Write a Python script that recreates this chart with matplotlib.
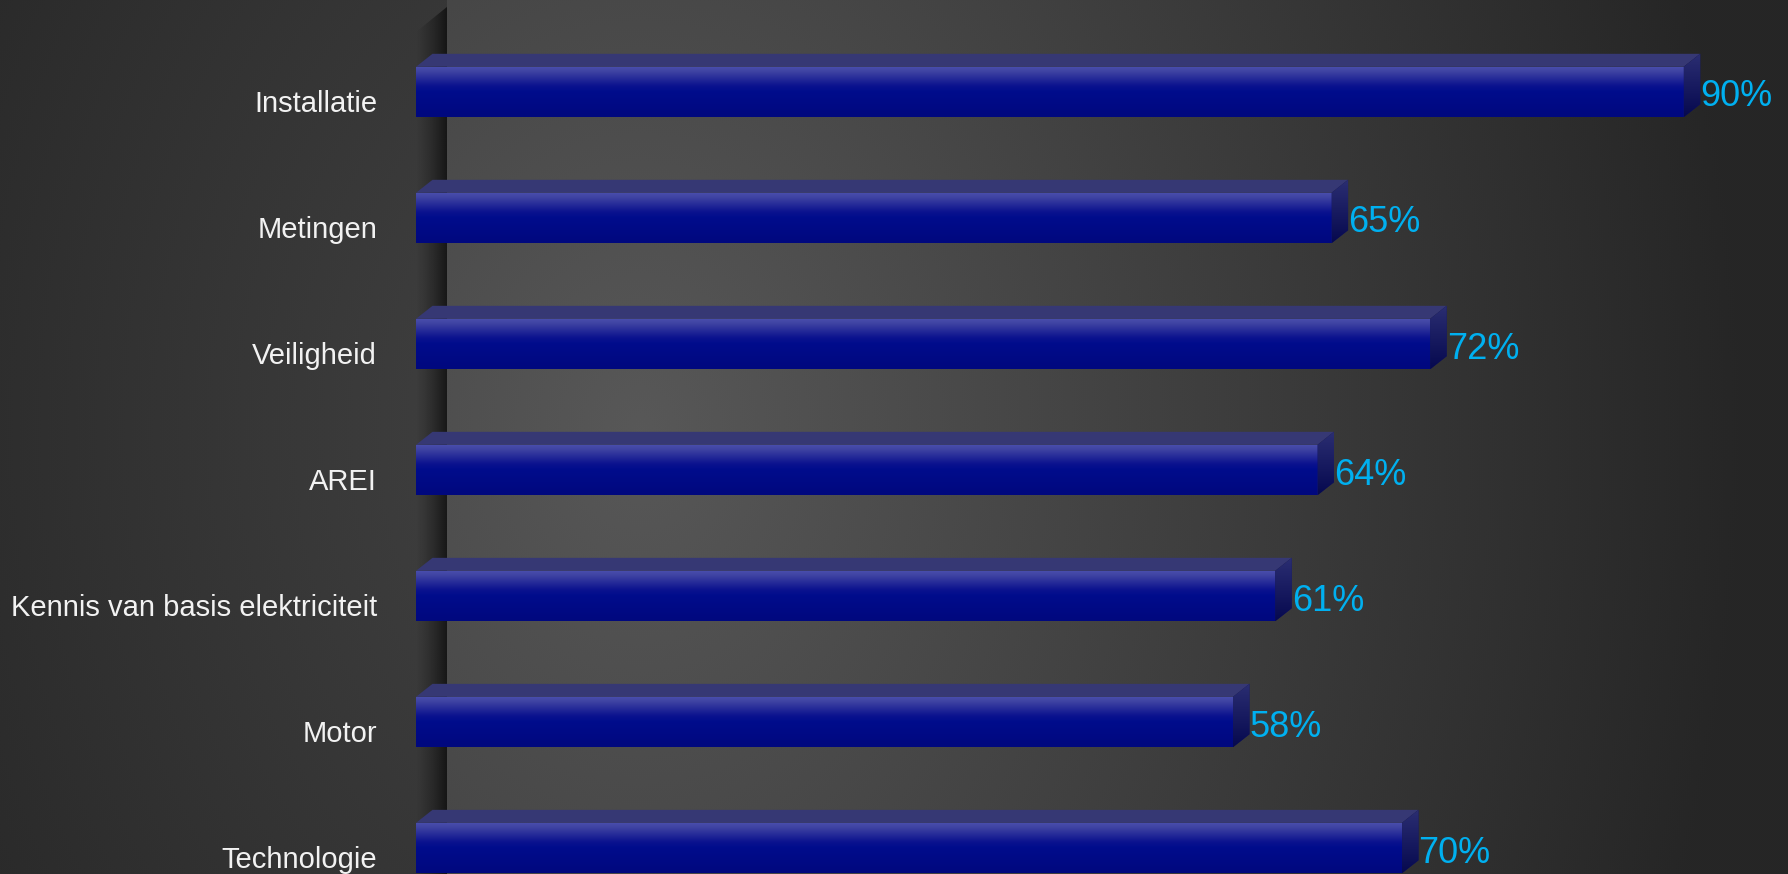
import numpy as np
import matplotlib
matplotlib.use("Agg")
import matplotlib.pyplot as plt
from matplotlib.patches import Polygon
from matplotlib.colors import LinearSegmentedColormap
from matplotlib.transforms import ScaledTranslation

plt.rcParams['font.family'] = ['Liberation Sans', 'DejaVu Sans']

# ---------------- Data -----------------
categories = ["Installatie", "Metingen", "Veiligheid", "AREI",
              "Kennis van basis elektriciteit", "Motor", "Technologie"]
scores = [90, 65, 72, 64, 61, 58, 70]

# ---------------- Figure + background -----------------
W, H = 1788, 874
fig = plt.figure(figsize=(W / 100, H / 100), dpi=100)

bg = fig.add_axes([0, 0, 1, 1])
bg.axis('off')
yy, xx = np.mgrid[0:H, 0:W]
d = np.sqrt(((xx - 640) / 1100.0) ** 2 + ((yy - 430) / 1400.0) ** 2)
shade = 88 - 50 * np.clip(d, 0, 1)
shade = np.where(xx < 447, shade * 0.78, shade)
# ordered dither so the gradient does not show rings
bayer = np.array([[0, 8, 2, 10], [12, 4, 14, 6],
                  [3, 11, 1, 9], [15, 7, 13, 5]]) / 16.0 - 0.47
shade = shade + np.tile(bayer, (H // 4 + 1, W // 4 + 1))[:H, :W]
g = np.clip(shade / 255.0, 0, 1)
bg.imshow(np.dstack([g, g, g]), extent=(0, W, H, 0),
          aspect='auto', interpolation='nearest')
bg.set_xlim(0, W)
bg.set_ylim(H, 0)

# ---------------- Main axes -----------------
ax = fig.add_axes([416 / W, 0, (W - 416) / W, 1])
ax.set_facecolor('none')
for s in ax.spines.values():
    s.set_visible(False)

bar_h = 0.4
dx, dy = 1.17, 0.103          # 3D depth of the bars (data units)
wall_dx = 2.2                 # depth of the left wall

front_cmap = LinearSegmentedColormap.from_list(
    'front', [(0, '#4a4fae'), (0.1, '#3f43a2'), (0.38, '#0c138f'),
              (0.5, '#000c8c'), (1, '#00087e')])
side_cmap = LinearSegmentedColormap.from_list('side', ['#2b2e72', '#06094f'])
wall_cmap = LinearSegmentedColormap.from_list(
    'wall', [(0, (0, 0, 0, 0)), (0.5, (0, 0, 0, 0.28)), (1, (0, 0, 0, 0.62))])

# left wall shadow
wall = Polygon([(0, -0.476), (wall_dx, -0.675), (wall_dx, 7), (0, 7)],
               closed=True, facecolor='none', edgecolor='none')
ax.add_patch(wall)
wimg = ax.imshow(np.linspace(0, 1, 64)[None, :] ** 1.2, cmap=wall_cmap,
                 vmin=0, vmax=1, extent=(0, wall_dx, 7, -0.675),
                 aspect='auto', zorder=1)
wimg.set_clip_path(wall)

ypos = np.arange(len(categories))
bars = ax.barh(ypos, scores, height=bar_h, color='#000a8a', zorder=3)
grad = np.linspace(0, 1, 100)[:, None]
lbl_shift = ScaledTranslation(0, -0.05, fig.dpi_scale_trans)

for rect, val, y in zip(bars, scores, ypos):
    top, bot = y - bar_h / 2, y + bar_h / 2
    img = ax.imshow(grad, cmap=front_cmap, extent=(0, val, bot, top),
                    aspect='auto', zorder=4)
    img.set_clip_path(rect)

    ax.add_patch(Polygon([(0, top), (val, top), (val + dx, top - dy), (dx, top - dy)],
                         closed=True, facecolor='#363874', edgecolor='none', zorder=4))

    side = Polygon([(val, top), (val + dx, top - dy), (val + dx, bot - dy), (val, bot)],
                   closed=True, facecolor='#14175e', edgecolor='none', zorder=4)
    ax.add_patch(side)
    simg = ax.imshow(grad, cmap=side_cmap, extent=(val, val + dx, bot, top - dy),
                     aspect='auto', zorder=5)
    simg.set_clip_path(side)

    ax.text(val + dx, y, f"{val}%", ha='left', va='center',
            fontsize=26, color='#00B0F0', zorder=6,
            transform=ax.transData + lbl_shift)

ax.set_yticks(ypos)
ax.set_yticklabels(categories, fontsize=21, color='#f2f2f2')
ax.tick_params(axis='y', length=0, pad=28)
ax.set_xticks([])
offset = ScaledTranslation(0, -0.09, fig.dpi_scale_trans)
for lbl in ax.get_yticklabels():
    lbl.set_transform(lbl.get_transform() + offset)

ax.set_xlim(0, 97.4)
ax.set_ylim(6.206, -0.730)

fig.savefig('out.png', dpi=100)
